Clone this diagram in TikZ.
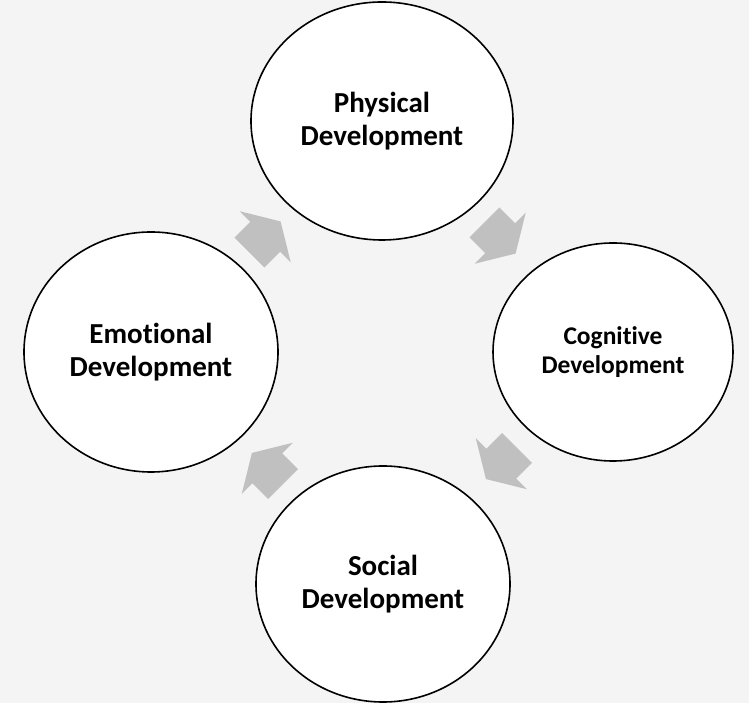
\documentclass[tikz,border=0pt]{standalone}
\usepackage{fontspec}
\setmainfont{Carlito}[Ligatures=NoCommon]
\usetikzlibrary{shapes.geometric,shapes.arrows,calc}
\definecolor{pagegray}{RGB}{244,244,244}
\definecolor{arrowgray}{RGB}{192,192,192}

\begin{document}
\begin{tikzpicture}[x=1pt, y=1pt,
  stage/.style={ellipse, draw, line width=1.6pt, fill=white, inner sep=0pt, align=center, font=\bfseries\fontsize{29}{33}\selectfont},
  flow/.style={single arrow, fill=arrowgray, draw=none, inner xsep=0pt, inner ysep=21pt, minimum height=44pt, single arrow head extend=15pt, single arrow tip angle=118}
]
\fill[pagegray] (0,0) rectangle (749,703);
\useasboundingbox (0,0) rectangle (749,703);

\node[stage, minimum width=262pt, minimum height=238pt] (physical) at (382,582) {Physical\\Development};
\node[stage, minimum width=240pt, minimum height=218pt, font=\bfseries\fontsize{25.5}{29}\selectfont] (cognitive) at (613,351) {Cognitive\\Development};
\node[stage, minimum width=254pt, minimum height=236pt] (social) at (383,119) {Social\\Development};
\node[stage, minimum width=254pt, minimum height=240pt] (emotional) at (151,351) {Emotional\\Development};

% arrows between the stages
\node[flow, rotate=-45] (a1) at ($(physical)!0.5!(cognitive)+(-2,3)$) {};
\node[flow, rotate=-135] (a2) at ($(cognitive)!0.5!(social)+(8,9)$) {};
\node[flow, rotate=135] (a3) at ($(social)!0.5!(emotional)+(5,-5)$) {};
\node[flow, rotate=45] (a4) at ($(emotional)!0.5!(physical)+(-6,-5)$) {};
\end{tikzpicture}
\end{document}
